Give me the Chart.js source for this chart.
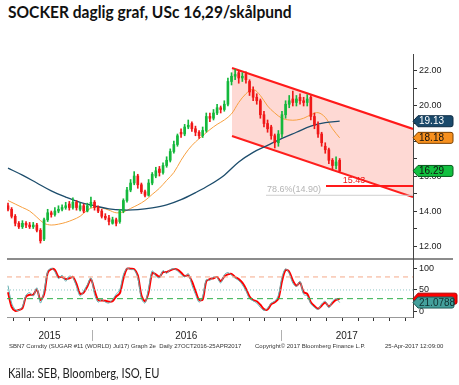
<!DOCTYPE html>
<html>
<head>
<meta charset="utf-8">
<script src="https://cdn.jsdelivr.net/npm/chart.js@4"></script>
<style>
  body { margin:0; background:#fff; }
  #wrap { position:relative; width:459px; height:385px; overflow:hidden; font-family:Lato,"Liberation Sans",sans-serif; }
  canvas { position:absolute; left:0; top:0; }
  .title { position:absolute; left:8px; top:1px; font-weight:bold; font-size:17px; color:#111; white-space:nowrap;
           transform:scaleX(0.915); transform-origin:left top; }
  .src { position:absolute; left:8px; top:365px; font-size:13px; color:#222; white-space:nowrap;
         transform:scaleX(0.86); transform-origin:left top; }
  .sep { position:absolute; left:7px; top:258px; width:446px; height:2px; background:#8c8c8c; }
  .foot { position:absolute; top:343px; font-size:6px; color:#333; font-family:"Liberation Sans"; white-space:nowrap; }
</style>
</head>
<body>
<div id="wrap">
  <div class="title">SOCKER daglig graf, USc 16,29/skålpund</div>
  <div class="sep"></div>
  <canvas id="main" width="459" height="385"></canvas>
  <canvas id="stoch" width="459" height="385"></canvas>
  <div class="foot" style="left:9px">SBN7 Comdty (SUGAR #11 (WORLD) Jul17) Graph 2e&nbsp; Daily 27OCT2016-25APR2017</div>
  <div class="foot" style="left:255px">Copyright© 2017 Bloomberg Finance L.P.</div>
  <div class="foot" style="left:385px">25-Apr-2017 12:09:00</div>
  <div class="src">Källa: SEB, Bloomberg, ISO, EU</div>
</div>
<script>
// x-axeln räknas i veckor sedan 1 jan 2015
const firstWeek = 28.84;
const xMin = 28.56, xMax = 141.18;

// veckostaplar
const open = [14.3,14.1,13.7,13.3,13.1,13.3,13.2,13.1,13.2,12.9,
  12.4,13.5,13.9,13.8,14.0,14.1,14.2,14.4,14.2,14.5,
  14.1,14.3,14.0,14.3,14.5,14.2,14.0,13.7,13.6,13.3,
  13.5,13.4,14.0,14.6,15.2,15.6,16.0,15.5,15.1,14.9,
  15.6,16.0,16.4,16.2,16.6,16.9,17.4,17.8,18.5,18.4,
  18.8,19.0,18.7,18.5,18.3,18.6,19.4,19.3,19.6,19.9,
  19.8,20.1,21.4,21.7,21.9,21.6,21.8,21.4,20.9,20.5,
  20.3,19.5,19.0,18.8,18.3,17.9,18.4,19.5,20.1,20.4,
  20.2,20.5,20.3,20.2,20.5,19.4,18.9,18.4,17.7,17.5,
  16.9,16.6,16.9];
const high = [14.45,14.2,13.8,13.4,13.45,13.4,13.35,13.35,13.3,13.0,
  13.6,14.1,14.0,14.2,14.3,14.35,14.5,14.55,14.75,14.6,
  14.45,14.4,14.45,14.8,14.6,14.3,14.1,13.85,13.75,13.65,
  13.6,14.1,14.7,15.35,15.8,16.25,16.1,15.6,15.2,15.8,
  16.2,16.5,16.55,16.75,17.1,17.55,18.0,18.4,18.7,18.95,
  19.2,19.1,18.85,18.6,18.8,19.6,19.6,19.8,20.1,20.0,
  20.3,21.6,21.9,22.1,22.0,21.9,21.95,21.5,21.1,20.7,
  20.4,19.7,19.2,18.9,18.4,18.6,19.7,20.3,20.6,20.85,
  20.6,20.7,20.5,20.65,20.6,19.6,19.1,18.5,17.9,17.6,
  17.0,17.1,17.0];
const low = [14.0,13.6,13.15,13.0,13.0,13.05,13.0,13.0,12.8,12.17,
  12.3,13.4,13.65,13.7,13.9,14.0,14.1,14.05,14.1,14.05,
  14.0,13.9,13.95,14.2,14.05,13.9,13.6,13.5,13.2,13.25,
  13.15,13.3,13.9,14.5,15.1,15.5,15.3,15.0,14.8,14.85,
  15.5,15.9,16.0,16.1,16.5,16.8,17.3,17.7,18.2,18.3,
  18.7,18.55,18.3,18.15,18.2,18.5,19.1,19.2,19.5,19.6,
  19.7,20.0,21.2,21.5,21.3,21.4,21.3,20.6,20.3,20.1,
  19.3,18.8,18.5,18.1,17.6,17.7,18.2,19.3,19.9,20.0,
  20.0,20.1,20.0,20.0,19.2,18.7,18.2,17.7,17.3,16.7,
  16.35,16.4,16.2];
const close = [14.1,13.7,13.3,13.1,13.3,13.2,13.1,13.2,12.9,12.3,
  13.5,13.9,13.8,14.0,14.1,14.2,14.3,14.2,14.5,14.2,
  14.3,14.0,14.3,14.5,14.2,14.0,13.7,13.6,13.4,13.5,
  13.3,14.0,14.6,15.2,15.6,16.0,15.5,15.1,14.9,15.6,
  16.1,16.3,16.2,16.6,16.9,17.4,17.8,18.3,18.4,18.8,
  18.9,18.7,18.5,18.3,18.6,19.4,19.3,19.6,19.9,19.8,
  20.1,21.4,21.7,21.8,21.6,21.7,21.5,20.8,20.5,20.3,
  19.5,19.0,18.7,18.3,17.9,18.4,19.5,20.1,20.3,20.2,
  20.4,20.3,20.2,20.4,19.4,18.9,18.4,17.9,17.5,16.9,
  16.6,16.8,16.29];

// glidande medel: ma50 varannan vecka, ma200 var fjärde vecka
const ma50 = [14.6,14.4,14.2,14.0,13.65,13.3,13.2,13.25,13.35,13.5,
  13.7,14.05,14.22,14.18,14.05,13.9,13.95,14.15,14.35,14.6,
  14.95,15.3,15.75,16.2,16.9,17.5,17.95,18.3,18.65,18.95,
  19.2,19.55,20.2,20.7,20.95,20.6,20.0,19.6,19.3,19.2,
  19.2,19.3,19.5,19.62,19.35,18.7,18.18];
const ma200 = [16.45,16.05,15.6,15.15,14.8,14.5,14.3,14.12,14.06,14.08,
  14.18,14.35,14.65,15.05,15.5,16.05,16.8,17.35,17.75,18.15,
  18.5,18.85,19.05,19.13];

// stokastisk oscillator
const stochSlow = [45,11,2,4,8,35,39,39,51,27,
  40,89,98,96,80,80,75,77,80,64,
  41,44,58,75,49,27,26,25,23,24,
  35,42,76,99,99,98,84,38,24,45,
  89,86,80,91,91,95,98,97,90,82,
  84,70,48,27,28,70,75,77,80,70,
  81,86,87,80,75,67,53,35,27,24,
  16,6,5,17,22,30,70,96,92,72,
  60,67,45,41,22,13,7,14,21,12,
  20,27,30];
const stochFast = [60,20,5,3,12,38,44,36,55,20,
  48,93,100,92,76,84,70,82,78,58,
  36,48,62,78,40,22,28,22,20,28,
  40,50,85,100,97,96,78,30,20,55,
  94,82,78,95,88,97,99,94,86,80,
  88,62,40,22,35,74,72,80,78,66,
  85,90,84,77,72,62,48,30,25,20,
  10,3,8,20,24,38,80,99,88,66,
  58,70,40,36,18,10,5,18,24,9,
  24,30,21.0788];

// trendkanal och nivåer
const channelWeeks = [90.97, 141.18];
const channelTop = [22.17, 18.69];
const channelBottom = [18.29, 14.80];
const resLevel = 15.43, resFrom = 117.05, resLabelAt = 124.8;
const fibLevel = 14.90, fibFrom = 100.4, fibLabel = '78.6%(14.90)';

const priceTicks = [12,13,14,15,16,17,18,19,20,21,22];
const stochTicks = [0,50,100];
const stochLevels = [80,50,30];
const years = ['2015','2016','2017'];

Chart.defaults.font.family = 'Liberation Sans';
Chart.defaults.animation = false;

const GREEN = '#14b83c', RED = '#f01818';
const weeks = close.map((c,i) => firstWeek + i);
const candleCol = close.map((c,i) => c >= open[i] ? GREEN : RED);
const weekOf = (y,m) => (Date.UTC(y,m,1) - Date.UTC(2015,0,1)) / (7*864e5);
const monthTicks = [];
for (let y=2015; y<=2017; y++) for (let m=0; m<12; m++) {
  const w = weekOf(y,m);
  if (w > xMin && w < xMax) monthTicks.push(w);
}

function drawTag(ctx, x0, y, w, fill, stroke, text, color){
  const h = 11;
  ctx.save();
  ctx.beginPath();
  ctx.moveTo(x0, y);
  ctx.lineTo(x0+5, y-h/2);
  ctx.lineTo(x0+w-2, y-h/2);
  ctx.quadraticCurveTo(x0+w, y-h/2, x0+w, y-h/2+2);
  ctx.lineTo(x0+w, y+h/2-2);
  ctx.quadraticCurveTo(x0+w, y+h/2, x0+w-2, y+h/2);
  ctx.lineTo(x0+5, y+h/2);
  ctx.closePath();
  ctx.fillStyle = fill; ctx.fill();
  ctx.strokeStyle = stroke; ctx.lineWidth = 1; ctx.stroke();
  ctx.fillStyle = color;
  ctx.font = '10px "Liberation Sans"';
  ctx.textBaseline = 'middle';
  ctx.fillText(text, x0+6, y+0.5);
  ctx.restore();
}

const mainOverlay = {
  id: 'mainOverlay',
  afterDraw(chart){
    const ctx = chart.ctx, xs = chart.scales.x, ys = chart.scales.y;
    ctx.save();
    ctx.font = '9px "Liberation Sans"';
    ctx.textBaseline = 'bottom';
    ctx.fillStyle = '#f01818'; ctx.textAlign = 'center';
    ctx.fillText(resLevel.toFixed(2), xs.getPixelForValue(resLabelAt), ys.getPixelForValue(resLevel) - 1);
    ctx.fillStyle = '#b4b4b4'; ctx.textAlign = 'left';
    ctx.fillText(fibLabel, xs.getPixelForValue(fibFrom) + 1, ys.getPixelForValue(fibLevel) - 1);
    ctx.restore();
    const x0 = chart.chartArea.right;
    drawTag(ctx, x0, ys.getPixelForValue(ma200[ma200.length-1]), 40, '#1b4a6b', '#0e2c44', ma200[ma200.length-1].toFixed(2), '#fff');
    drawTag(ctx, x0, ys.getPixelForValue(ma50[ma50.length-1]), 40, '#f7901e', '#7a4000', ma50[ma50.length-1].toFixed(2), '#111');
    drawTag(ctx, x0, ys.getPixelForValue(close[close.length-1]), 40, '#12c040', '#075a1c', close[close.length-1].toFixed(2), '#111');
  }
};

const lineDs = (data, color, width, extra) => Object.assign({
  type:'line', data, borderColor:color, borderWidth:width, pointRadius:0, fill:false, tension:0
}, extra || {});

new Chart(document.getElementById('main'), {
  type: 'bar',
  data: {
    datasets: [
      lineDs(channelWeeks.map((w,i)=>({x:w, y:channelTop[i]})), '#ff1a1a', 2,
        {fill:'+1', backgroundColor:'rgba(250,80,60,0.22)', order:9}),
      lineDs(channelWeeks.map((w,i)=>({x:w, y:channelBottom[i]})), '#ff1a1a', 2, {order:9}),
      lineDs([{x:resFrom, y:resLevel},{x:xMax, y:resLevel}], '#ff1a1a', 2, {order:8}),
      lineDs([{x:fibFrom, y:fibLevel},{x:xMax, y:fibLevel}], '#cfcfcf', 1, {order:8}),
      lineDs(ma200.map((v,i)=>({x:firstWeek + i*4, y:v})), '#1d4d6c', 1.3, {tension:0.35, order:3}),
      lineDs(ma50.map((v,i)=>({x:firstWeek + i*2, y:v})), '#f7a040', 1, {tension:0.35, order:3}),
      { type:'bar', data: weeks.map((w,i)=>({x:w, y:[low[i], high[i]]})),
        backgroundColor: candleCol, barThickness:1, grouped:false, order:2 },
      { type:'bar', data: weeks.map((w,i)=>({x:w, y:[open[i], close[i]]})),
        backgroundColor: candleCol, barThickness:2, minBarLength:1, grouped:false, order:1 }
    ]
  },
  options: {
    responsive:false,
    layout: { padding: { left:7, top:54, right:0, bottom:126 } },
    plugins: { legend:{display:false}, tooltip:{enabled:false} },
    scales: {
      x: { type:'linear', min:xMin, max:xMax, offset:false, display:false },
      y: {
        type:'linear', position:'right', min:11.26, max:22.97,
        afterBuildTicks: s => { s.ticks = priceTicks.map(v=>({value:v})); },
        afterFit: s => { s.width = 46; },
        grid: { drawOnChartArea:false, tickLength:4, color:'#333' },
        border: { color:'#444' },
        ticks: { padding:2, color:'#222', font:{size:9},
          callback: v => v % 2 === 0 ? v.toFixed(2) : '' }
      }
    }
  },
  plugins: [mainOverlay]
});

const stochOverlay = {
  id: 'stochOverlay',
  afterDraw(chart){
    const ctx = chart.ctx, xs = chart.scales.x, ys = chart.scales.y;
    const bounds = [xMin, weekOf(2016,0), weekOf(2017,0), xMax].map(w => xs.getPixelForValue(w));
    ctx.save();
    ctx.strokeStyle = '#b0b0b0'; ctx.lineWidth = 1;
    [bounds[1], bounds[2]].forEach(px => {
      ctx.beginPath(); ctx.moveTo(Math.round(px)+0.5, 330); ctx.lineTo(Math.round(px)+0.5, 341); ctx.stroke();
    });
    ctx.fillStyle = '#222'; ctx.font = '10px "Liberation Sans"';
    ctx.textAlign = 'center'; ctx.textBaseline = 'middle';
    years.forEach((y,i) => ctx.fillText(y, (bounds[i]+bounds[i+1])/2, 336.5));
    ctx.restore();
    const x0 = chart.chartArea.right;
    const s = stochSlow[stochSlow.length-1], f = stochFast[stochFast.length-1];
    drawTag(ctx, x0, ys.getPixelForValue(s), 44, '#ff0000', '#b00000', '', '#fff');
    drawTag(ctx, x0, ys.getPixelForValue(f), 41, '#44a09c', '#1f5a57', f.toFixed(4), '#10302f');
  }
};

new Chart(document.getElementById('stoch'), {
  type: 'line',
  data: {
    datasets: [
      lineDs([{x:xMin,y:stochLevels[0]},{x:xMax,y:stochLevels[0]}], '#f5a98a', 1, {borderDash:[5,4]}),
      lineDs([{x:xMin,y:stochLevels[1]},{x:xMax,y:stochLevels[1]}], '#8cc5c5', 1, {borderDash:[1,2]}),
      lineDs([{x:xMin,y:stochLevels[2]},{x:xMax,y:stochLevels[2]}], '#2eb04a', 1, {borderDash:[6,4]}),
      lineDs(stochFast.map((v,i)=>({x:weeks[i], y:v})), '#62aeb0', 1, {tension:0.3}),
      lineDs(stochSlow.map((v,i)=>({x:weeks[i], y:v})), '#ff0000', 2, {tension:0.3})
    ]
  },
  options: {
    responsive:false,
    layout: { padding: { left:7, top:260, right:0, bottom:64 } },
    plugins: { legend:{display:false}, tooltip:{enabled:false} },
    scales: {
      x: {
        type:'linear', min:xMin, max:xMax,
        afterBuildTicks: s => { s.ticks = monthTicks.map(v=>({value:v})); },
        afterFit: s => { s.height = 4; },
        grid: { drawOnChartArea:false, tickLength:4, color:'#333' },
        border: { color:'#999' },
        ticks: { display:false }
      },
      y: {
        type:'linear', position:'right', min:-12.2, max:119,
        afterBuildTicks: s => { s.ticks = stochTicks.map(v=>({value:v})); },
        afterFit: s => { s.width = 46; },
        grid: { drawOnChartArea:false, tickLength:4, color:'#333' },
        border: { color:'#444' },
        ticks: { padding:2, color:'#222', font:{size:9} }
      }
    }
  },
  plugins: [stochOverlay]
});
</script>
</body>
</html>
